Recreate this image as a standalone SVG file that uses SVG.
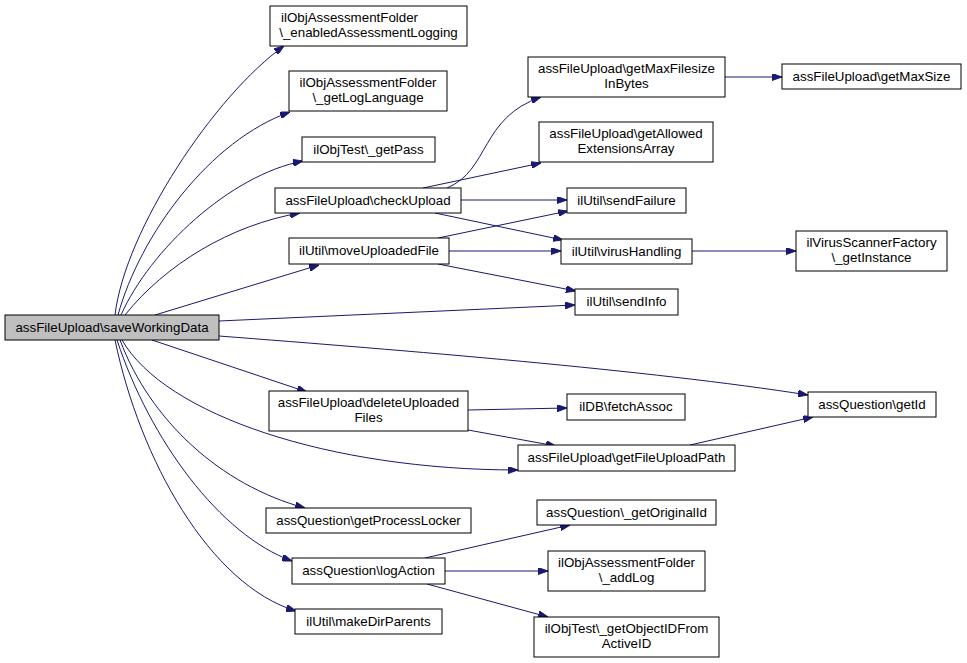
<svg xmlns="http://www.w3.org/2000/svg" width="967" height="663" viewBox="0 0 967 663">
<style>
  .n rect { fill: #ffffff; stroke: #000000; stroke-width: 1; }
  .n.root rect { fill: #bfbfbf; }
  .n text { font-family: "Liberation Sans", Arial, Helvetica, sans-serif; font-size: 13.33px; fill: #000000; text-anchor: middle; }
  .e path { fill: none; stroke: #191970; stroke-width: 1; marker-end: url(#ah); }
</style>
<defs>
  <marker id="ah" viewBox="0 0 10 7" refX="10" refY="3.5" markerWidth="10" markerHeight="7" markerUnits="userSpaceOnUse" orient="auto">
    <path d="M0,0 L10,3.5 L0,7 z" fill="#191970" stroke="#191970" stroke-width="1"/>
  </marker>
</defs>
<rect width="967" height="663" fill="#ffffff"/>
<g id="edges" class="e">
  <path d="M115,315 C125,230 215,95 284,46"/>
  <path d="M118,315 C140,235 210,140 290,112"/>
  <path d="M121,315 C150,250 230,175 303,161"/>
  <path d="M125,315 C165,265 230,225 300,213"/>
  <path d="M155,315 L319,265"/>
  <path d="M219,321 L575,305"/>
  <path d="M219,336 C400,350 650,370 808,395"/>
  <path d="M152,340 L307,392"/>
  <path d="M122,340 C165,415 330,470 518,470"/>
  <path d="M120,340 C150,420 220,485 305,508"/>
  <path d="M117,340 C150,440 220,535 292,561"/>
  <path d="M115,340 C140,460 210,585 296,611"/>
  <path d="M447,188 C490,170 480,118 541,97"/>
  <path d="M423,188 L541,163"/>
  <path d="M461,200 L567,200"/>
  <path d="M435,213 L563,240"/>
  <path d="M438,238 L568,211"/>
  <path d="M449,251 L561,251"/>
  <path d="M438,264 L576,291"/>
  <path d="M725,77 L782,77"/>
  <path d="M692,251 L796,251"/>
  <path d="M468,410 L567,408"/>
  <path d="M468,430 L556,446"/>
  <path d="M690,445 L813,417"/>
  <path d="M425,558 L570,525"/>
  <path d="M445,571 L548,571"/>
  <path d="M427,584 L548,617"/>
</g>
<g id="saveWorkingData" class="n root"><rect x="5" y="315" width="214" height="25"/><text x="112" y="332">assFileUpload\saveWorkingData</text></g>
<g id="enabledAssessmentLogging" class="n"><rect x="270" y="6" width="197" height="40"/><text x="281" y="22" style="text-anchor:start">ilObjAssessmentFolder</text><text x="368.5" y="37">\_enabledAssessmentLogging</text></g>
<g id="getLogLanguage" class="n"><rect x="289" y="71" width="158" height="40"/><text x="368" y="87">ilObjAssessmentFolder</text><text x="368" y="102">\_getLogLanguage</text></g>
<g id="getPass" class="n"><rect x="302" y="137" width="133" height="25"/><text x="368.5" y="154">ilObjTest\_getPass</text></g>
<g id="checkUpload" class="n"><rect x="275" y="188" width="186" height="25"/><text x="368" y="205">assFileUpload\checkUpload</text></g>
<g id="moveUploadedFile" class="n"><rect x="289" y="238" width="160" height="26"/><text x="369" y="255">ilUtil\moveUploadedFile</text></g>
<g id="deleteUploadedFiles" class="n"><rect x="269" y="391" width="199" height="40"/><text x="368.5" y="407">assFileUpload\deleteUploaded</text><text x="368.5" y="422">Files</text></g>
<g id="getProcessLocker" class="n"><rect x="266" y="508" width="205" height="25"/><text x="368.5" y="525">assQuestion\getProcessLocker</text></g>
<g id="logAction" class="n"><rect x="292" y="558" width="153" height="26"/><text x="368.5" y="575">assQuestion\logAction</text></g>
<g id="makeDirParents" class="n"><rect x="295" y="609" width="147" height="25"/><text x="368.5" y="626">ilUtil\makeDirParents</text></g>
<g id="getMaxFilesizeInBytes" class="n"><rect x="528" y="57" width="197" height="40"/><text x="626.5" y="73">assFileUpload\getMaxFilesize</text><text x="626.5" y="88">InBytes</text></g>
<g id="getAllowedExtensionsArray" class="n"><rect x="539" y="122" width="174" height="40"/><text x="626" y="138">assFileUpload\getAllowed</text><text x="626" y="153">ExtensionsArray</text></g>
<g id="sendFailure" class="n"><rect x="567" y="188" width="119" height="25"/><text x="626.5" y="205">ilUtil\sendFailure</text></g>
<g id="virusHandling" class="n"><rect x="561" y="239" width="131" height="25"/><text x="626.5" y="256">ilUtil\virusHandling</text></g>
<g id="sendInfo" class="n"><rect x="575" y="289" width="103" height="26"/><text x="626.5" y="306">ilUtil\sendInfo</text></g>
<g id="fetchAssoc" class="n"><rect x="567" y="394" width="118" height="26"/><text x="626" y="411">ilDB\fetchAssoc</text></g>
<g id="getFileUploadPath" class="n"><rect x="518" y="445" width="217" height="26"/><text x="626.5" y="462">assFileUpload\getFileUploadPath</text></g>
<g id="getOriginalId" class="n"><rect x="537" y="500" width="179" height="25"/><text x="626.5" y="517">assQuestion\_getOriginalId</text></g>
<g id="addLog" class="n"><rect x="548" y="551" width="157" height="40"/><text x="626.5" y="567">ilObjAssessmentFolder</text><text x="626.5" y="582">\_addLog</text></g>
<g id="getObjectIDFromActiveID" class="n"><rect x="534" y="617" width="185" height="40"/><text x="626.5" y="633">ilObjTest\_getObjectIDFrom</text><text x="626.5" y="648">ActiveID</text></g>
<g id="getMaxSize" class="n"><rect x="782" y="64" width="179" height="25"/><text x="871.5" y="81">assFileUpload\getMaxSize</text></g>
<g id="getInstance" class="n"><rect x="796" y="231" width="151" height="40"/><text x="871.5" y="247">ilVirusScannerFactory</text><text x="871.5" y="262">\_getInstance</text></g>
<g id="getId" class="n"><rect x="808" y="392" width="128" height="25"/><text x="872" y="409">assQuestion\getId</text></g>
</svg>
